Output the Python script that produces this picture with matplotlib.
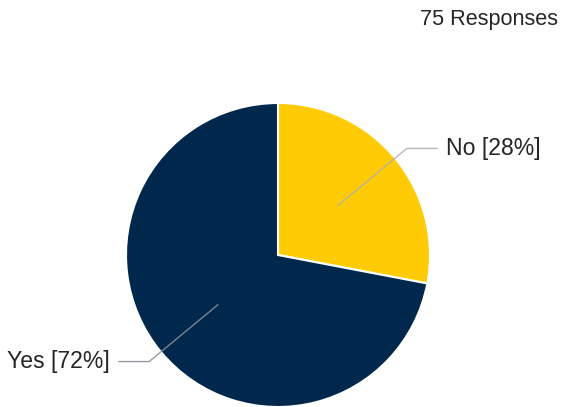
import numpy as np
import matplotlib
matplotlib.use("Agg")
import matplotlib.pyplot as plt

# Survey answers
categories = ["No", "Yes"]
percentages = [28, 72]
total_responses = 75
colors = ["#FFCB05", "#00274C"]

W, H = 564, 407
fig = plt.figure(figsize=(W / 100, H / 100), dpi=100)
ax = fig.add_axes([0, 0, 1, 1])

cx, cy, r = 278, H - 255, 152
wedges, _ = ax.pie(percentages, colors=colors, startangle=90, counterclock=False,
                   center=(cx, cy), radius=r,
                   wedgeprops=dict(edgecolor="white", linewidth=1.5))

text_color = "#262626"
for w, cat, pct in zip(wedges, categories, percentages):
    mid = np.deg2rad((w.theta1 + w.theta2) / 2)
    dx, dy = np.cos(mid), np.sin(mid)
    p0 = (cx + 0.51 * r * dx, cy + 0.51 * r * dy)
    p1 = (cx + 1.1 * r * dx, cy + 1.1 * r * dy)
    side = 1 if dx >= 0 else -1
    p2 = (p1[0] + side * 31, p1[1])
    line_color = "#B0B0B0" if side > 0 else "#8A8F99"
    ax.plot([p0[0], p1[0], p2[0]], [p0[1], p1[1], p2[1]],
            color=line_color, lw=1, solid_capstyle="butt", zorder=5, alpha=0.9)
    ax.text(p2[0] + side * 8, p2[1], f"{cat} [{pct}%]",
            ha="left" if side > 0 else "right", va="center",
            fontsize=16.6, color=text_color, family="Liberation Sans")

ax.text(558, H - 19, f"{total_responses} Responses", ha="right", va="center",
        fontsize=15.6, color=text_color, family="Liberation Sans")

ax.set_xlim(0, W)
ax.set_ylim(0, H)
ax.set_aspect("equal")
ax.axis("off")
fig.savefig("out.png", dpi=100)
